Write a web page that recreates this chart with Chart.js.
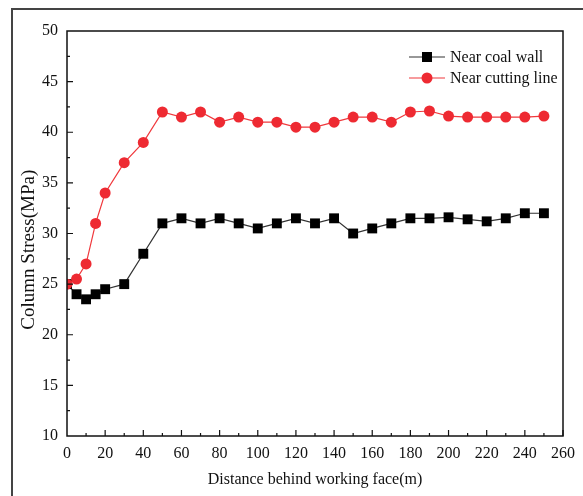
<!DOCTYPE html>
<html>
<head>
<meta charset="utf-8">
<script src="https://cdn.jsdelivr.net/npm/chart.js@4"></script>
<style>
  html, body { margin: 0; padding: 0; background: #fff; }
  #wrap { position: relative; width: 583px; height: 496px; overflow: hidden; }
  #frame { position: absolute; left: 11px; top: 8px; width: 600px; height: 500px;
           border-left: 2px solid #444; border-top: 2px solid #444; box-sizing: border-box; }
  canvas { position: absolute; left: 0; top: 0; }
</style>
</head>
<body>
<div id="wrap">
  <div id="frame"></div>
  <canvas id="stress" width="583" height="496"></canvas>
</div>
<script>
// distance behind working face (m)
const distances = [0, 5, 10, 15, 20, 30, 40, 50, 60, 70, 80, 90, 100, 110, 120, 130,
                   140, 150, 160, 170, 180, 190, 200, 210, 220, 230, 240, 250];
// column stress (MPa)
const nearCoalWall = [25, 24, 23.5, 24, 24.5, 25, 28, 31, 31.5, 31, 31.5, 31, 30.5, 31,
                      31.5, 31, 31.5, 30, 30.5, 31, 31.5, 31.5, 31.6, 31.4, 31.2, 31.5, 32, 32];
const nearCuttingLine = [25, 25.5, 27, 31, 34, 37, 39, 42, 41.5, 42, 41, 41.5, 41, 41,
                         40.5, 40.5, 41, 41.5, 41.5, 41, 42, 42.1, 41.6, 41.5, 41.5, 41.5, 41.5, 41.6];
const seriesNames = ['Near coal wall', 'Near cutting line'];
const yTitle = 'Column Stress(MPa)';

const serif = '"Liberation Serif", "DejaVu Serif", serif';

// box around the plot, inward ticks, y title and the legend inside the plot
const framePlugin = {
  id: 'framePlugin',
  afterDraw(chart) {
    const ctx = chart.ctx;
    const a = chart.chartArea;
    const xs = chart.scales.x, ys = chart.scales.y;
    ctx.save();
    ctx.strokeStyle = '#111';
    ctx.lineWidth = 1.5;
    ctx.strokeRect(a.left, a.top, a.right - a.left, a.bottom - a.top);

    ctx.lineWidth = 1.2;
    ctx.beginPath();
    for (let v = 10; v <= 260; v += 10) {
      const px = xs.getPixelForValue(v);
      const len = v % 20 === 0 ? 6 : 3;
      ctx.moveTo(px, a.bottom);
      ctx.lineTo(px, a.bottom - len);
    }
    for (let v = 12.5; v < 50; v += 2.5) {
      const py = ys.getPixelForValue(v);
      const len = v % 5 === 0 ? 6 : 3;
      ctx.moveTo(a.left, py);
      ctx.lineTo(a.left + len, py);
    }
    ctx.stroke();

    // y axis title, sits a bit below the plot's middle in the original
    ctx.save();
    ctx.translate(29, ys.getPixelForValue(28.4));
    ctx.rotate(-Math.PI / 2);
    ctx.font = '19px ' + serif;
    ctx.fillStyle = '#111';
    ctx.textAlign = 'center';
    ctx.textBaseline = 'middle';
    ctx.fillText(yTitle, 0, 0);
    ctx.restore();

    // legend
    ctx.font = '16px ' + serif;
    ctx.textBaseline = 'middle';
    ctx.textAlign = 'left';
    chart.data.datasets.forEach((ds, i) => {
      const y = a.top + 26 + i * 21;
      const x0 = a.right - 154;
      ctx.strokeStyle = ds.borderColor;
      ctx.lineWidth = 1.2;
      ctx.beginPath();
      ctx.moveTo(x0, y);
      ctx.lineTo(x0 + 36, y);
      ctx.stroke();
      ctx.fillStyle = ds.pointBackgroundColor;
      if (ds.pointStyle === 'rect') {
        ctx.fillRect(x0 + 13, y - 5, 10, 10);
      } else {
        ctx.beginPath();
        ctx.arc(x0 + 18, y, 5.5, 0, Math.PI * 2);
        ctx.fill();
      }
      ctx.fillStyle = '#111';
      ctx.fillText(ds.label, x0 + 41, y + 1);
    });
    ctx.restore();
  }
};

new Chart(document.getElementById('stress'), {
  type: 'line',
  data: {
    datasets: [
      {
        label: seriesNames[0],
        data: distances.map((d, i) => ({ x: d, y: nearCoalWall[i] })),
        order: 2,
        borderColor: '#333',
        borderWidth: 1.2,
        pointStyle: 'rect',
        pointRadius: 7,
        pointBackgroundColor: '#000',
        pointBorderColor: '#000',
        pointBorderWidth: 0,
        tension: 0
      },
      {
        label: seriesNames[1],
        data: distances.map((d, i) => ({ x: d, y: nearCuttingLine[i] })),
        order: 1,
        borderColor: '#f0383c',
        borderWidth: 1.2,
        pointStyle: 'circle',
        pointRadius: 5.5,
        pointBackgroundColor: '#ee2a32',
        pointBorderColor: '#ee2a32',
        pointBorderWidth: 0,
        tension: 0
      }
    ]
  },
  options: {
    responsive: false,
    animation: false,
    layout: { padding: { left: 0, top: 31, right: 18, bottom: 7 } },
    plugins: {
      legend: { display: false },
      tooltip: { enabled: false }
    },
    scales: {
      x: {
        type: 'linear',
        min: 0,
        max: 260,
        grid: { display: false, drawTicks: false },
        border: { display: false },
        ticks: {
          stepSize: 20,
          padding: 8,
          color: '#111',
          font: { family: serif, size: 16 }
        },
        title: {
          display: true,
          text: 'Distance behind working face(m)',
          color: '#111',
          padding: { top: 4, bottom: 0 },
          font: { family: serif, size: 16 }
        },
        afterFit: scale => { scale.height = 53; }
      },
      y: {
        min: 10,
        max: 50,
        grid: { display: false, drawTicks: false },
        border: { display: false },
        ticks: {
          stepSize: 5,
          padding: 9,
          color: '#111',
          font: { family: serif, size: 16 }
        },
        afterFit: scale => { scale.width = 67; }
      }
    }
  },
  plugins: [framePlugin]
});
</script>
</body>
</html>
